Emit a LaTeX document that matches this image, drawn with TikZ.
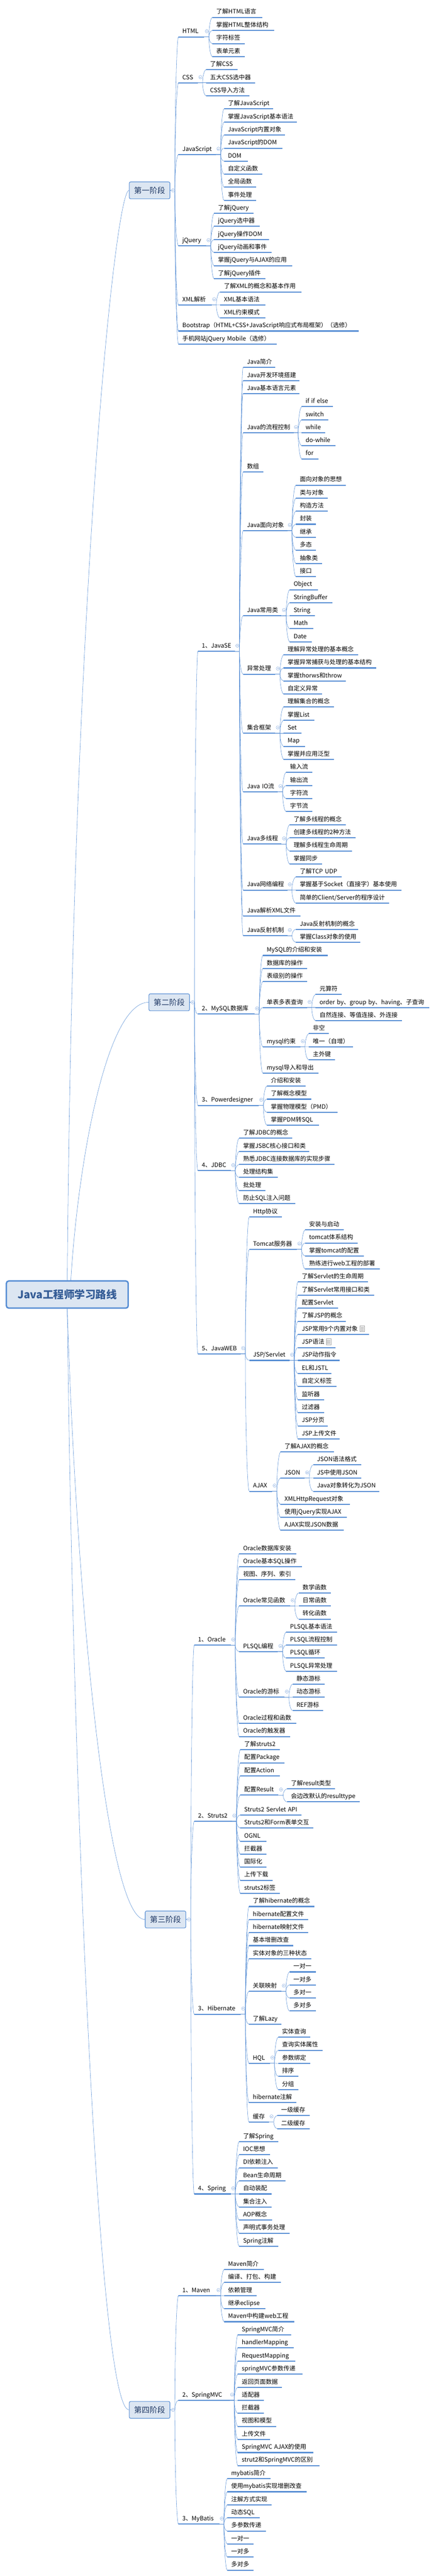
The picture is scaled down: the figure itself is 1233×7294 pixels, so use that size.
\documentclass[tikz,border=0pt]{standalone}
\usepackage{fontspec}
\setmainfont{Noto Sans CJK SC}
\usetikzlibrary{calc}
\hyphenpenalty=10000
\exhyphenpenalty=10000
\definecolor{barblue}{RGB}{86,141,212}
\definecolor{togglec}{RGB}{138,174,224}
\definecolor{boxfill}{RGB}{220,230,242}
\definecolor{stagetext}{RGB}{31,56,100}
\definecolor{roottext}{RGB}{52,92,150}
\tikzset{
  leaf/.style={anchor=south west,inner xsep=11pt,inner ysep=5.5pt,text height=14pt,text depth=4pt,
    font=\fontsize{17}{20}\selectfont,align=left,text width=#1pt-22pt,
    append after command={(\tikzlastnode.south west) edge[line width=3pt,barblue] (\tikzlastnode.south east)}},
  stage/.style={draw=barblue,fill=boxfill,line width=1.6pt,rounded corners=4pt,minimum width=115pt,minimum height=48pt,
    inner sep=0pt,text=stagetext,font=\fontsize{22}{26}\selectfont},
  root/.style={draw=barblue,fill=boxfill,line width=4pt,rounded corners=7pt,minimum width=345pt,minimum height=77pt,
    inner sep=0pt,text=roottext,font=\fontsize{30}{36}\selectfont\bfseries},
  toggle/.style={circle,draw=togglec,fill=white,line width=0.8pt,minimum size=9.5pt,inner sep=0pt,
    path picture={\draw[togglec,line width=0.8pt] ([xshift=2.5pt]path picture bounding box.west) -- ([xshift=-2.5pt]path picture bounding box.east);}},
  noteicon/.style={draw=black!35,fill=white,line width=0.8pt,minimum width=13pt,minimum height=17pt,inner sep=0pt,
    path picture={\foreach \k in {3,6,9,12} \draw[black!35,line width=0.7pt] ([xshift=2pt,yshift=-\k pt-1pt]path picture bounding box.north west) -- ([xshift=-2pt,yshift=-\k pt-1pt]path picture bounding box.north east);}},
  link/.style={barblue,line width=0.8pt},
  branch/.style={to path={-- ++(13,0) coordinate (hub) .. controls ($(hub)!0.5!(hub |- \tikztotarget)$) and ($(hub |- \tikztotarget)!0.5!(\tikztotarget)$) .. (\tikztotarget)}}
}
\begin{document}
\begin{tikzpicture}[x=1pt,y=1pt,yscale=-1,xscale=1]
\useasboundingbox (0,0) rectangle (1233,7294);

%Root and stages
\node[root] (root) at (190.5,3665.5) {Java工程师学习路线};
\node[stage] (s1) at (423.5,539) {第一阶段};
\node[stage] (s2) at (479,2838) {第二阶段};
\node[stage] (s3) at (468.5,5435) {第三阶段};
\node[stage] (s4) at (423.5,6823.5) {第四阶段};

%Stage one
\node[leaf=73] (html) at (505,104.4) {HTML};
\node[leaf=141] (html1) at (601,49) {了解HTML语言};
\node[leaf=174] (html2) at (601,86) {掌握HTML整体结构};
\node[leaf=91] (html3) at (601,123.4) {字符标签};
\node[leaf=91] (html4) at (601,160.5) {表单元素};
\node[leaf=55] (css) at (505,234.5) {CSS};
\node[leaf=88] (css1) at (583.5,197.3) {了解CSS};
\node[leaf=138.5] (css2) at (583.5,234.5) {五大CSS选中器};
\node[leaf=122] (css3) at (583.5,271.2) {CSS导入方法};
\node[leaf=106] (js) at (505,437.3) {JavaScript};
\node[leaf=139] (js1) at (634,308.4) {了解JavaScript};
\node[leaf=206] (js2) at (634,345.6) {掌握JavaScript基本语法};
\node[leaf=172] (js3) at (634,382.4) {JavaScript内置对象};
\node[leaf=165] (js4) at (634,419.5) {JavaScript的DOM};
\node[leaf=67.5] (js5) at (634,456.3) {DOM};
\node[leaf=108] (js6) at (634,493.5) {自定义函数};
\node[leaf=91] (js7) at (634,530.2) {全局函数};
\node[leaf=91] (js8) at (634,567.4) {事件处理};
\node[leaf=78] (jq) at (505,696) {jQuery};
\node[leaf=111] (jq1) at (606,604.6) {了解jQuery};
\node[leaf=128.5] (jq2) at (606,641) {jQuery选中器};
\node[leaf=155] (jq3) at (606,678.3) {jQuery操作DOM};
\node[leaf=162] (jq4) at (606,715) {jQuery动画和事件};
\node[leaf=221] (jq5) at (606,752.2) {掌握jQuery与AJAX的应用};
\node[leaf=145] (jq6) at (606,789) {了解jQuery插件};
\node[leaf=94] (xml) at (505,863.3) {XML解析};
\node[leaf=230] (xml1) at (623,826.6) {了解XML的概念和基本作用};
\node[leaf=128] (xml2) at (623,863.3) {XML基本语法};
\node[leaf=128] (xml3) at (623,900.5) {XML约束模式};
\node[leaf=510] (boot) at (505,937.3) {Bootstrap（HTML+CSS+JavaScript响应式布局框架）（选修）};
\node[leaf=277.5] (mobile) at (505,974) {手机网站jQuery~Mobile（选修）};

%JavaSE
\node[leaf=104.5] (se) at (560,1844.3) {1、JavaSE};
\node[leaf=91] (se1) at (688,1040.5) {Java简介};
\node[leaf=159] (se2) at (688,1077.6) {Java开发环境搭建};
\node[leaf=159] (se3) at (688,1114.4) {Java基本语言元素};
\node[leaf=142.5] (flow) at (688,1225.3) {Java的流程控制};
\node[leaf=88] (flow1) at (854,1151.6) {if~if~else};
\node[leaf=75.5] (flow2) at (854,1188.8) {switch};
\node[leaf=66] (flow3) at (854,1225.3) {while};
\node[leaf=95] (flow4) at (854,1262) {do-while};
\node[leaf=47] (flow5) at (854,1299.2) {for};
\node[leaf=57.5] (se5) at (688,1336.4) {数组};
\node[leaf=125] (oop) at (688,1502.5) {Java面向对象};
\node[leaf=141.5] (oop1) at (837.5,1373.6) {面向对象的思想};
\node[leaf=90.5] (oop2) at (837.5,1410.4) {类与对象};
\node[leaf=90.5] (oop3) at (837.5,1447.5) {构造方法};
\node[leaf=56.5] (oop4) at (837.5,1484.3) {封装};
\node[leaf=56.5] (oop5) at (837.5,1521.5) {继承};
\node[leaf=56.5] (oop6) at (837.5,1558.2) {多态};
\node[leaf=73.5] (oop7) at (837.5,1595.4) {抽象类};
\node[leaf=56.5] (oop8) at (837.5,1632.6) {接口};
\node[leaf=108.6] (util) at (688,1743.3) {Java常用类};
\node[leaf=79.6] (util1) at (820,1669.7) {Object};
\node[leaf=121] (util2) at (820,1706.5) {StringBuffer};
\node[leaf=71] (util3) at (820,1743.3) {String};
\node[leaf=66] (util4) at (820,1780.4) {Math};
\node[leaf=61.6] (util5) at (820,1817.2) {Date};
\node[leaf=91] (exc) at (688,1909) {异常处理};
\node[leaf=210] (exc1) at (803,1854.2) {理解异常处理的基本概念};
\node[leaf=261] (exc2) at (803,1891.3) {掌握异常捕获与处理的基本结构};
\node[leaf=175] (exc3) at (803,1928) {掌握thorws和throw};
\node[leaf=108] (exc4) at (803,1965.3) {自定义异常};
\node[leaf=91] (coll) at (688,2076) {集合框架};
\node[leaf=142] (coll1) at (803,2002) {理解集合的概念};
\node[leaf=86.4] (coll2) at (803,2039.2) {掌握List};
\node[leaf=50] (coll3) at (803,2076) {Set};
\node[leaf=60.4] (coll4) at (803,2113.2) {Map};
\node[leaf=142] (coll5) at (803,2150) {掌握并应用泛型};
\node[leaf=98.4] (io) at (688,2242) {Java~IO流};
\node[leaf=74] (io1) at (810,2187) {输入流};
\node[leaf=74] (io2) at (810,2224.3) {输出流};
\node[leaf=74] (io3) at (810,2261) {字符流};
\node[leaf=74] (io4) at (810,2298.2) {字节流};
\node[leaf=108.6] (thr) at (688,2390) {Java多线程};
\node[leaf=159] (thr1) at (820,2335) {了解多线程的概念};
\node[leaf=186.6] (thr2) at (820,2372.2) {创建多线程的2种方法};
\node[leaf=176.4] (thr3) at (820,2409.3) {理解多线程生命周期};
\node[leaf=91.4] (thr4) at (820,2446.3) {掌握同步};
\node[leaf=125] (net) at (688,2520.2) {Java网络编程};
\node[leaf=129.8] (net1) at (837.5,2483.4) {了解TCP~UDP};
\node[leaf=298.9] (net2) at (837.5,2520.2) {掌握基于Socket（直接字）基本使用};
\node[leaf=263.5] (net3) at (837.5,2557.4) {简单的Client/Server的程序设计};
\node[leaf=162] (se13) at (688,2594) {Java解析XML文件};
\node[leaf=125] (refl) at (688,2649.5) {Java反射机制};
\node[leaf=175.5] (refl1) at (837.5,2631.3) {Java反射机制的概念};
\node[leaf=182.5] (refl2) at (837.5,2668) {掌握Class对象的使用};

%MySQL
\node[leaf=160.3] (mysql) at (560,2871.3) {2、MySQL数据库};
\node[leaf=184] (mysql1) at (744,2705.3) {MySQL的介绍和安装};
\node[leaf=125] (mysql2) at (744,2742) {数据库的操作};
\node[leaf=125] (mysql3) at (744,2779.2) {表级别的操作};
\node[leaf=125] (query) at (744,2853) {单表多表查询};
\node[leaf=73.9] (query1) at (893.4,2816) {元算符};
\node[leaf=321.6] (query2) at (893.4,2853) {order~by、group~by、having、子查询};
\node[leaf=243.6] (query3) at (893.4,2890) {自然连接、等值连接、外连接};
\node[leaf=106] (cons) at (744,2964.2) {mysql约束};
\node[leaf=56.5] (cons1) at (874.5,2927) {非空};
\node[leaf=125] (cons2) at (874.5,2964.2) {唯一（自增）};
\node[leaf=73.9] (cons3) at (874.5,3001) {主外键};
\node[leaf=157] (mysql6) at (744,3038.4) {mysql导入和导出};

%Powerdesigner and JDBC
\node[leaf=172] (pd) at (560,3130) {3、Powerdesigner};
\node[leaf=108.3] (pd1) at (755.7,3075) {介绍和安装};
\node[leaf=125.3] (pd2) at (755.7,3112.3) {了解概念模型};
\node[leaf=199.8] (pd3) at (755.7,3149.5) {掌握物理模型（PMD）};
\node[leaf=147.3] (pd4) at (755.7,3186.2) {掌握PDM转SQL};
\node[leaf=92.7] (jdbc) at (560,3315) {4、JDBC};
\node[leaf=150] (jdbc1) at (677,3223) {了解JDBC的概念};
\node[leaf=198] (jdbc2) at (677,3260.2) {掌握JSBC核心接口和类};
\node[leaf=269] (jdbc3) at (677,3297.3) {熟悉JDBC连接数据库的实现步骤};
\node[leaf=108.6] (jdbc4) at (677,3334) {处理结构集};
\node[leaf=74] (jdbc5) at (677,3371.3) {批处理};
\node[leaf=158] (jdbc6) at (677,3408.4) {防止SQL注入问题};

%JavaWEB
\node[leaf=121] (web) at (560,3833.3) {5、JavaWEB};
\node[leaf=92.6] (web1) at (705.4,3445.2) {Http协议};
\node[leaf=134.6] (tomcat) at (705.4,3537.3) {Tomcat服务器};
\node[leaf=108] (tomcat1) at (864,3482.4) {安装与启动};
\node[leaf=148] (tomcat2) at (864,3519.5) {tomcat体系结构};
\node[leaf=165.4] (tomcat3) at (864,3556.3) {掌握tomcat的配置};
\node[leaf=210] (tomcat4) at (864,3593.5) {熟练进行web工程的部署};
\node[leaf=114] (jsp) at (705.4,3851.9) {JSP/Servlet};
\node[leaf=198] (jsp1) at (843,3630) {了解Servlet的生命周期};
\node[leaf=215.5] (jsp2) at (843,3667.2) {了解Servlet常用接口和类};
\node[leaf=114] (jsp3) at (843,3704) {配置Servlet};
\node[leaf=135] (jsp4) at (843,3741.2) {了解JSP的概念};
\node[leaf=201.3] (jsp5) at (843,3778.3) {JSP常用9个内置对象};
\node[leaf=106] (jsp6) at (843,3815.5) {JSP语法};
\node[leaf=118] (jsp7) at (843,3851.9) {JSP动作指令};
\node[leaf=94.4] (jsp8) at (843,3889) {EL和JSTL};
\node[leaf=108.5] (jsp9) at (843,3926.2) {自定义标签};
\node[leaf=74] (jsp10) at (843,3963) {监听器};
\node[leaf=74] (jsp11) at (843,4000.1) {过滤器};
\node[leaf=84] (jsp12) at (843,4037.3) {JSP分页};
\node[leaf=118] (jsp13) at (843,4074) {JSP上传文件};
\node[noteicon] (note1) at (1025,3762) {};
\node[noteicon] (note2) at (930,3799) {};
\node[leaf=64.6] (ajax) at (705.4,4222.5) {AJAX};
\node[leaf=150.2] (ajax1) at (794.3,4111.2) {了解AJAX的概念};
\node[leaf=67.7] (json) at (794.3,4185.2) {JSON};
\node[leaf=136] (json1) at (886.3,4148) {JSON语法格式};
\node[leaf=136] (json2) at (886.3,4185.2) {JS中使用JSON};
\node[leaf=187.2] (json3) at (886.3,4222.5) {Java对象转化为JSON};
\node[leaf=195.7] (ajax3) at (794.3,4259.3) {XMLHttpRequest对象};
\node[leaf=187.1] (ajax4) at (794.3,4296.5) {使用jQuery实现AJAX};
\node[leaf=177.7] (ajax5) at (794.3,4333.2) {AJAX实现JSON数据};

%Oracle
\node[leaf=103] (ora) at (549.7,4658.3) {1、Oracle};
\node[leaf=161.3] (ora1) at (677,4399.3) {Oracle数据库安装};
\node[leaf=177] (ora2) at (677,4436.4) {Oracle基本SQL操作};
\node[leaf=159] (ora3) at (677,4473.2) {视图、序列、索引};
\node[leaf=144] (func) at (677,4547.2) {Oracle常见函数};
\node[leaf=91.2] (func1) at (845.4,4510.4) {数学函数};
\node[leaf=91.2] (func2) at (845.4,4547.2) {日常函数};
\node[leaf=91.2] (func3) at (845.4,4584.3) {转化函数};
\node[leaf=109.4] (plsql) at (677,4676.5) {PLSQL编程};
\node[leaf=143] (plsql1) at (810,4621.5) {PLSQL基本语法};
\node[leaf=143] (plsql2) at (810,4658.3) {PLSQL流程控制};
\node[leaf=109.3] (plsql3) at (810,4695) {PLSQL循环};
\node[leaf=143] (plsql4) at (810,4732.2) {PLSQL异常处理};
\node[leaf=127.5] (cursor) at (677,4805.7) {Oracle的游标};
\node[leaf=91.3] (cursor1) at (828,4769) {静态游标};
\node[leaf=91.3] (cursor2) at (828,4805.7) {动态游标};
\node[leaf=86.6] (cursor3) at (828,4843.1) {REF游标};
\node[leaf=161.3] (ora7) at (677,4880.3) {Oracle过程和函数};
\node[leaf=144] (ora8) at (677,4917) {Oracle的触发器};

%Struts2
\node[leaf=106.3] (struts) at (549.7,5157) {2、Struts2};
\node[leaf=110.8] (struts1) at (680.2,4954.2) {了解struts2};
\node[leaf=124.3] (struts2) at (680.2,4991.4) {配置Package};
\node[leaf=110.8] (struts3) at (680.2,5028.1) {配置Action};
\node[leaf=107.8] (result) at (680.2,5083) {配置Result};
\node[leaf=136] (result1) at (812.4,5065.3) {了解result类型};
\node[leaf=206] (result2) at (812.4,5102) {会边改默认的resulttype};
\node[leaf=172.3] (struts5) at (680.2,5138.9) {Struts2~Servlet~API};
\node[leaf=206.1] (struts6) at (680.2,5176) {Struts2和Form表单交互};
\node[leaf=73.2] (struts7) at (680.2,5213.2) {OGNL};
\node[leaf=73.8] (struts8) at (680.2,5250) {拦截器};
\node[leaf=73.8] (struts9) at (680.2,5287.1) {国际化};
\node[leaf=91.3] (struts10) at (680.2,5323.9) {上传下载};
\node[leaf=110.8] (struts11) at (680.2,5360.7) {struts2标签};

%Hibernate
\node[leaf=131.3] (hib) at (549.7,5703.3) {3、Hibernate};
\node[leaf=184.8] (hib1) at (704.6,5398.2) {了解hibernate的概念};
\node[leaf=167.4] (hib2) at (704.6,5435.2) {hibernate配置文件};
\node[leaf=167.4] (hib3) at (704.6,5472.4) {hibernate映射文件};
\node[leaf=125] (hib4) at (704.6,5509.1) {基本增删改查};
\node[leaf=175.4] (hib5) at (704.6,5546.3) {实体对象的三种状态};
\node[leaf=91.4] (assoc) at (704.6,5638.4) {关联映射};
\node[leaf=73.9] (assoc1) at (819.4,5583.5) {一对一};
\node[leaf=73.9] (assoc2) at (819.4,5620.2) {一对多};
\node[leaf=73.9] (assoc3) at (819.4,5657.4) {多对一};
\node[leaf=73.9] (assoc4) at (819.4,5694.2) {多对多};
\node[leaf=91.4] (hib7) at (704.6,5731.4) {了解Lazy};
\node[leaf=59] (hql) at (704.6,5842) {HQL};
\node[leaf=91.2] (hql1) at (787.2,5768.5) {实体查询};
\node[leaf=125] (hql2) at (787.2,5805.3) {查询实体属性};
\node[leaf=91.2] (hql3) at (787.2,5842.5) {参数绑定};
\node[leaf=57.4] (hql4) at (787.2,5879.2) {排序};
\node[leaf=57.4] (hql5) at (787.2,5916.4) {分组};
\node[leaf=133.7] (hib9) at (704.6,5953.6) {hibernate注解};
\node[leaf=56.6] (cache) at (704.6,6008.5) {缓存};
\node[leaf=91.2] (cache1) at (784.8,5990.3) {一级缓存};
\node[leaf=91.2] (cache2) at (784.8,6027.4) {二级缓存};

%Spring
\node[leaf=103] (spring) at (549.7,6212.2) {4、Spring};
\node[leaf=110.2] (spring1) at (677,6064.2) {了解Spring};
\node[leaf=87.4] (spring2) at (677,6101.1) {IOC思想};
\node[leaf=109.4] (spring3) at (677,6138) {DI依赖注入};
\node[leaf=131.4] (spring4) at (677,6175.3) {Bean生命周期};
\node[leaf=91.3] (spring5) at (677,6212.2) {自动装配};
\node[leaf=91.3] (spring6) at (677,6249.1) {集合注入};
\node[leaf=93] (spring7) at (677,6286) {AOP概念};
\node[leaf=142.5] (spring8) at (677,6323.3) {声明式事务处理};
\node[leaf=110.2] (spring9) at (677,6360.2) {Spring注解};

%Stage four
\node[leaf=106] (maven) at (505,6500.3) {1、Maven};
\node[leaf=112.4] (maven1) at (634.6,6426) {Maven简介};
\node[leaf=159.7] (maven2) at (634.6,6463) {编译、打包、构建};
\node[leaf=91.3] (maven3) at (634.6,6500.3) {依赖管理};
\node[leaf=115.6] (maven4) at (634.6,6537.2) {继承eclipse};
\node[leaf=197.4] (maven5) at (634.6,6574) {Maven中构建web工程};
\node[leaf=144.6] (mvc) at (505,6796.4) {2、SpringMVC};
\node[leaf=150.2] (mvc1) at (673.2,6611.4) {SpringMVC简介};
\node[leaf=158] (mvc2) at (673.2,6648.3) {handlerMapping};
\node[leaf=162.8] (mvc3) at (673.2,6685.5) {RequestMapping};
\node[leaf=182.4] (mvc4) at (673.2,6722.6) {springMVC参数传递};
\node[leaf=125] (mvc5) at (673.2,6759.7) {返回页面数据};
\node[leaf=73.8] (mvc6) at (673.2,6796.8) {适配器};
\node[leaf=73.8] (mvc7) at (673.2,6833.5) {拦截器};
\node[leaf=107.8] (mvc8) at (673.2,6870.2) {视图和模型};
\node[leaf=91.2] (mvc9) at (673.2,6907.4) {上传文件};
\node[leaf=213.8] (mvc10) at (673.2,6944.5) {SpringMVC~AJAX的使用};
\node[leaf=230.4] (mvc11) at (673.2,6981.2) {strut2和SpringMVC的区别};
\node[leaf=115.5] (mybatis) at (505,7147.2) {3、MyBatis};
\node[leaf=121.9] (mybatis1) at (643.3,7018.3) {mybatis简介};
\node[leaf=224.1] (mybatis2) at (643.3,7055.4) {使用mybatis实现增删改查};
\node[leaf=125.7] (mybatis3) at (643.3,7092.1) {注解方式实现};
\node[leaf=91.2] (mybatis4) at (643.3,7129.3) {动态SQL};
\node[leaf=109.3] (mybatis5) at (643.3,7166.4) {多参数传递};
\node[leaf=74.7] (mybatis6) at (643.3,7203.5) {一对一};
\node[leaf=74.7] (mybatis7) at (643.3,7240.2) {一对多};
\node[leaf=74.7] (mybatis8) at (643.3,7277.3) {多对多};

%Root to stages
\draw[link] (root.north) .. controls (205,1700) and (325,539) .. (s1.west);
\draw[link] ([xshift=10pt]root.north) .. controls (220,3300) and (300,2838) .. (s2.west);
\draw[link] (root.south) .. controls (215,4500) and (300,5435) .. (s3.west);
\draw[link] (root.south) .. controls (205,5000) and (275,6823.5) .. (s4.west);

%Stages to topics
\foreach \n in {html,css,js,jq,xml,boot,mobile} \draw[link] (s1.east) to[branch] (\n.south west);
\foreach \n in {se,mysql,pd,jdbc,web} \draw[link] (s2.east) to[branch] (\n.south west);
\foreach \n in {ora,struts,hib,spring} \draw[link] (s3.east) to[branch] (\n.south west);
\foreach \n in {maven,mvc,mybatis} \draw[link] (s4.east) to[branch] (\n.south west);

%Topics to items
\foreach \n in {html1,html2,html3,html4} \draw[link] (html.south east) to[branch] (\n.south west);
\foreach \n in {css1,css2,css3} \draw[link] (css.south east) to[branch] (\n.south west);
\foreach \n in {js1,js2,js3,js4,js5,js6,js7,js8} \draw[link] (js.south east) to[branch] (\n.south west);
\foreach \n in {jq1,jq2,jq3,jq4,jq5,jq6} \draw[link] (jq.south east) to[branch] (\n.south west);
\foreach \n in {xml1,xml2,xml3} \draw[link] (xml.south east) to[branch] (\n.south west);
\foreach \n in {se1,se2,se3,flow,se5,oop,util,exc,coll,io,thr,net,se13,refl} \draw[link] (se.south east) to[branch] (\n.south west);
\foreach \n in {flow1,flow2,flow3,flow4,flow5} \draw[link] (flow.south east) to[branch] (\n.south west);
\foreach \n in {oop1,oop2,oop3,oop4,oop5,oop6,oop7,oop8} \draw[link] (oop.south east) to[branch] (\n.south west);
\foreach \n in {util1,util2,util3,util4,util5} \draw[link] (util.south east) to[branch] (\n.south west);
\foreach \n in {exc1,exc2,exc3,exc4} \draw[link] (exc.south east) to[branch] (\n.south west);
\foreach \n in {coll1,coll2,coll3,coll4,coll5} \draw[link] (coll.south east) to[branch] (\n.south west);
\foreach \n in {io1,io2,io3,io4} \draw[link] (io.south east) to[branch] (\n.south west);
\foreach \n in {thr1,thr2,thr3,thr4} \draw[link] (thr.south east) to[branch] (\n.south west);
\foreach \n in {net1,net2,net3} \draw[link] (net.south east) to[branch] (\n.south west);
\foreach \n in {refl1,refl2} \draw[link] (refl.south east) to[branch] (\n.south west);
\foreach \n in {mysql1,mysql2,mysql3,query,cons,mysql6} \draw[link] (mysql.south east) to[branch] (\n.south west);
\foreach \n in {query1,query2,query3} \draw[link] (query.south east) to[branch] (\n.south west);
\foreach \n in {cons1,cons2,cons3} \draw[link] (cons.south east) to[branch] (\n.south west);
\foreach \n in {pd1,pd2,pd3,pd4} \draw[link] (pd.south east) to[branch] (\n.south west);
\foreach \n in {jdbc1,jdbc2,jdbc3,jdbc4,jdbc5,jdbc6} \draw[link] (jdbc.south east) to[branch] (\n.south west);
\foreach \n in {web1,tomcat,jsp,ajax} \draw[link] (web.south east) to[branch] (\n.south west);
\foreach \n in {tomcat1,tomcat2,tomcat3,tomcat4} \draw[link] (tomcat.south east) to[branch] (\n.south west);
\foreach \n in {jsp1,jsp2,jsp3,jsp4,jsp5,jsp6,jsp7,jsp8,jsp9,jsp10,jsp11,jsp12,jsp13} \draw[link] (jsp.south east) to[branch] (\n.south west);
\foreach \n in {ajax1,json,ajax3,ajax4,ajax5} \draw[link] (ajax.south east) to[branch] (\n.south west);
\foreach \n in {json1,json2,json3} \draw[link] (json.south east) to[branch] (\n.south west);
\foreach \n in {ora1,ora2,ora3,func,plsql,cursor,ora7,ora8} \draw[link] (ora.south east) to[branch] (\n.south west);
\foreach \n in {func1,func2,func3} \draw[link] (func.south east) to[branch] (\n.south west);
\foreach \n in {plsql1,plsql2,plsql3,plsql4} \draw[link] (plsql.south east) to[branch] (\n.south west);
\foreach \n in {cursor1,cursor2,cursor3} \draw[link] (cursor.south east) to[branch] (\n.south west);
\foreach \n in {struts1,struts2,struts3,result,struts5,struts6,struts7,struts8,struts9,struts10,struts11} \draw[link] (struts.south east) to[branch] (\n.south west);
\foreach \n in {result1,result2} \draw[link] (result.south east) to[branch] (\n.south west);
\foreach \n in {hib1,hib2,hib3,hib4,hib5,assoc,hib7,hql,hib9,cache} \draw[link] (hib.south east) to[branch] (\n.south west);
\foreach \n in {assoc1,assoc2,assoc3,assoc4} \draw[link] (assoc.south east) to[branch] (\n.south west);
\foreach \n in {hql1,hql2,hql3,hql4,hql5} \draw[link] (hql.south east) to[branch] (\n.south west);
\foreach \n in {cache1,cache2} \draw[link] (cache.south east) to[branch] (\n.south west);
\foreach \n in {spring1,spring2,spring3,spring4,spring5,spring6,spring7,spring8,spring9} \draw[link] (spring.south east) to[branch] (\n.south west);
\foreach \n in {maven1,maven2,maven3,maven4,maven5} \draw[link] (maven.south east) to[branch] (\n.south west);
\foreach \n in {mvc1,mvc2,mvc3,mvc4,mvc5,mvc6,mvc7,mvc8,mvc9,mvc10,mvc11} \draw[link] (mvc.south east) to[branch] (\n.south west);
\foreach \n in {mybatis1,mybatis2,mybatis3,mybatis4,mybatis5,mybatis6,mybatis7,mybatis8} \draw[link] (mybatis.south east) to[branch] (\n.south west);

%Collapse marks
\foreach \n in {html,css,js,jq,xml,se,flow,oop,util,exc,coll,io,thr,net,refl,mysql,query,cons,pd,jdbc,web,tomcat,jsp,ajax,json,ora,func,plsql,cursor,struts,result,hib,assoc,hql,cache,spring,maven,mvc,mybatis}
  \node[toggle] (t\n) at ($(\n.south east)+(7,-16)$) {};
\foreach \n in {s1,s2,s3,s4}
  \node[toggle] (t\n) at ($(\n.east)+(8,0)$) {};

\end{tikzpicture}
\end{document}
